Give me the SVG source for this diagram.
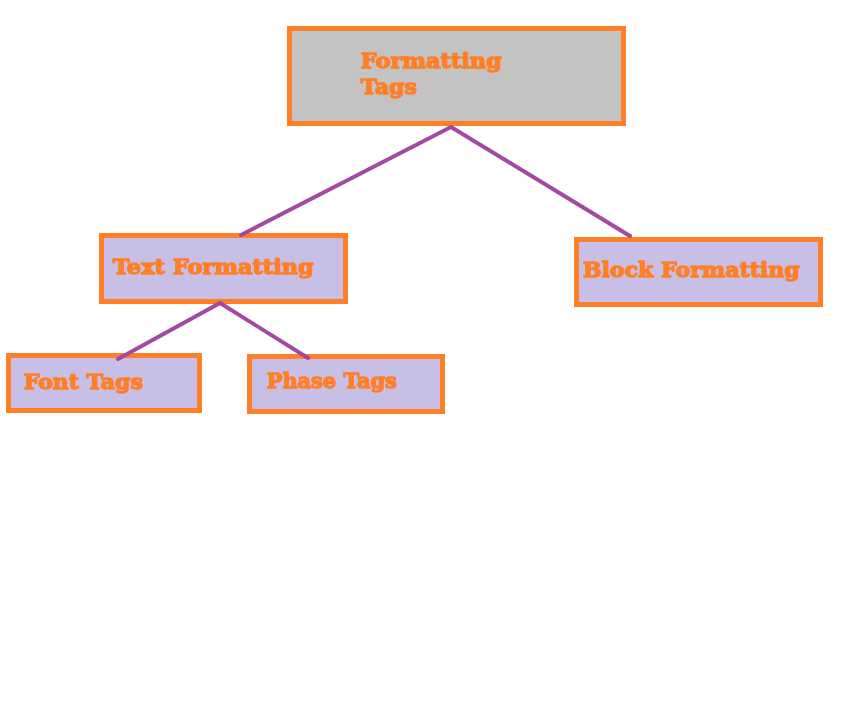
<svg xmlns="http://www.w3.org/2000/svg" width="851" height="705" viewBox="0 0 851 705">
<style>
.box{stroke:#ff7f27;stroke-width:5}
.lav{fill:#c8bfe7}
.gray{fill:#c3c3c3}
.lbl{font-family:"DejaVu Serif","Liberation Serif",serif;font-weight:bold;font-size:21px;fill:#ff7f27;stroke:#ff7f27;stroke-width:1.3;stroke-linejoin:round}
.edge{stroke:#a349a4;stroke-width:4;stroke-linecap:round;fill:none}
</style>
<rect width="851" height="705" fill="#fff"/>
<g id="formatting-tags">
<rect class="box gray" x="289.5" y="28.5" width="334" height="95"/>
<text class="lbl" x="361" y="68" textLength="141" lengthAdjust="spacingAndGlyphs">Formatting</text>
<text class="lbl" x="361" y="94" textLength="56" lengthAdjust="spacingAndGlyphs">Tags</text>
</g>
<g id="text-formatting">
<rect class="box lav" x="101.5" y="235.5" width="244" height="66"/>
<text class="lbl" x="113" y="274" textLength="201" lengthAdjust="spacingAndGlyphs">Text Formatting</text>
</g>
<g id="block-formatting">
<rect class="box lav" x="576.5" y="239.5" width="244" height="65"/>
<text class="lbl" x="583" y="277" textLength="217" lengthAdjust="spacingAndGlyphs">Block Formatting</text>
</g>
<g id="font-tags">
<rect class="box lav" x="8.5" y="355.5" width="191" height="55"/>
<text class="lbl" x="24" y="389" textLength="119" lengthAdjust="spacingAndGlyphs">Font Tags</text>
</g>
<g id="phase-tags">
<rect class="box lav" x="249.5" y="356.5" width="193" height="55"/>
<text class="lbl" x="267" y="388" textLength="130" lengthAdjust="spacingAndGlyphs">Phase Tags</text>
</g>
<g id="connectors">
<line class="edge" x1="451" y1="127" x2="241" y2="235"/>
<line class="edge" x1="451" y1="127" x2="630" y2="236"/>
<line class="edge" x1="220" y1="303" x2="118" y2="359"/>
<line class="edge" x1="220" y1="303" x2="308" y2="358"/>
</g>
</svg>
